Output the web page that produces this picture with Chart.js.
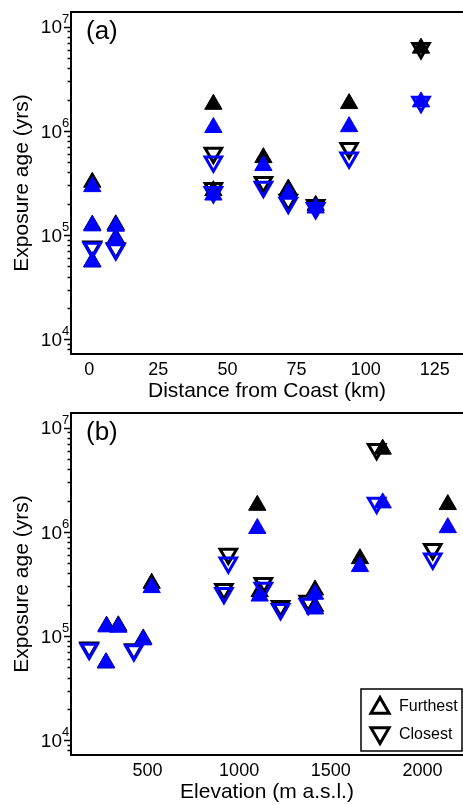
<!DOCTYPE html>
<html>
<head>
<meta charset="utf-8">
<script src="https://cdn.jsdelivr.net/npm/chart.js@4.4.1/dist/chart.umd.min.js"></script>
<style>
  html, body { margin: 0; padding: 0; background: #fff; overflow: hidden; }
  canvas { display: block; }
</style>
</head>
<body>
<canvas id="chart_a" width="463" height="404"></canvas>
<canvas id="chart_b" width="463" height="401"></canvas>
<script>
// "Furthest" samples (up triangles): position and exposure age for the two models
const furthestDist = [1.1, 1.1, 1.1, 9.6, 9.6, 44.9, 44.9, 63, 72, 81.9, 94, 120];
const furthestElev = [523, 277, 274, 341, 477, 1099, 1112, 1659, 1414, 1414, 2138, 1783];
const furthestBlack = [3.25e5, 1.26e5, 5.6e4, 1.27e5, 9.5e4, 1.82e6, 2.7e5, 5.6e5, 2.8e5, 1.95e5, 1.85e6, 6.3e6];
const furthestBlue = [2.95e5, 1.24e5, 5.6e4, 1.23e5, 9.3e4, 1.09e6, 2.45e5, 4.7e5, 2.55e5, 1.84e5, 1.11e6, 1.92e6];

// "Closest" samples (down triangles)
const closestDist = [1.1, 9.6, 44.9, 44.9, 63, 72, 81.9, 94, 120];
const closestElev = [182, 426, 941, 917, 1132, 1377, 1226, 2056, 1750];
const closestBlack = [7.8e4, 7.5e4, 6.2e5, 2.85e5, 3.25e5, 2.2e5, 1.95e5, 6.9e5, 6.3e6];
const closestBlue = [7.6e4, 7.35e4, 5.1e5, 2.6e5, 2.92e5, 2.05e5, 1.83e5, 5.6e5, 1.92e6];

// axis ticks
const yTicks = [1e4, 1e5, 1e6, 1e7];
const distTicks = [0, 25, 50, 75, 100, 125];
const elevTicks = [500, 1000, 1500, 2000];

const BLUE = "#0000ff";
const BLACK = "#000000";
const FONT = "'Liberation Sans', Arial, sans-serif";

Chart.defaults.font.family = FONT;
Chart.defaults.color = "#000";

function isDecade(v) {
    const e = Math.log10(v);
    return Math.abs(e - Math.round(e)) < 1e-9;
}

function allLogTicks(min, max) {
    const out = [];
    for (let e = 3; e <= 7; e++) {
        for (let k = 1; k <= 9; k++) {
            const v = k * Math.pow(10, e);
            if (v >= min && v <= max) out.push({value: v});
        }
    }
    return out;
}

function pts(xs, ys) {
    return xs.map((x, i) => ({x: x, y: ys[i]}));
}

// top frame line, panel letter and 10^n labels with a real superscript
const framePlugin = {
    id: "frame",
    afterDraw(chart, args, opts) {
        const {ctx, chartArea} = chart;
        const yScale = chart.scales.y;
        ctx.save();
        ctx.strokeStyle = "#000";
        ctx.lineWidth = 2;
        ctx.beginPath();
        ctx.moveTo(chartArea.left, chartArea.top);
        ctx.lineTo(chartArea.right, chartArea.top);
        ctx.stroke();
        ctx.fillStyle = "#000";
        ctx.font = "26px " + FONT;
        ctx.textBaseline = "middle";
        ctx.textAlign = "left";
        ctx.fillText(opts.letter, chartArea.left + 15, chartArea.top + 20);

        yTicks.forEach((v) => {
            const py = yScale.getPixelForValue(v);
            ctx.font = "19px " + FONT;
            ctx.textAlign = "right";
            ctx.textBaseline = "middle";
            ctx.fillText("10", chartArea.left - 9, py + 1);
            ctx.font = "13px " + FONT;
            ctx.textAlign = "left";
            ctx.fillText(String(Math.round(Math.log10(v))), chartArea.left - 9, py - 8);
        });
        ctx.restore();
    },
};

// boxed legend in the lower right corner of panel (b)
const boxLegend = {
    id: "boxLegend",
    afterDraw(chart, args, opts) {
        if (!opts.items) return;
        const {ctx, chartArea} = chart;
        const x0 = chartArea.right - 102, y0 = chartArea.bottom - 66;
        ctx.save();
        ctx.strokeStyle = "#000";
        ctx.lineWidth = 1.5;
        ctx.strokeRect(x0, y0, 101, 62);
        ctx.font = "16px " + FONT;
        ctx.textBaseline = "middle";
        opts.items.forEach((item, i) => {
            const cy = y0 + 18 + i * 28;
            ctx.lineWidth = 3;
            ctx.fillStyle = "rgba(0,0,0,0)";
            Chart.helpers.drawPoint(ctx, {pointStyle: "triangle", rotation: item.rotation, radius: 10.5, borderWidth: 3},
                x0 + 19, cy + (item.rotation ? -2 : 1));
            ctx.fillStyle = "#000";
            ctx.fillText(item.text, x0 + 38, cy);
        });
        ctx.restore();
    },
};

function makeDatasets(fx, cx) {
    return [
        {label: "Furthest blue", data: pts(fx, furthestBlue), order: 1, pointStyle: "triangle",
            pointRadius: 10, backgroundColor: BLUE, borderColor: BLUE, borderWidth: 1},
        {label: "Closest blue", data: pts(cx, closestBlue), order: 2, pointStyle: "triangle", rotation: 180,
            pointRadius: 9.5, backgroundColor: "rgba(0,0,0,0)", borderColor: BLUE, borderWidth: 3},
        {label: "Furthest black", data: pts(fx, furthestBlack), order: 3, pointStyle: "triangle",
            pointRadius: 10, backgroundColor: BLACK, borderColor: BLACK, borderWidth: 1},
        {label: "Closest black", data: pts(cx, closestBlack), order: 4, pointStyle: "triangle", rotation: 180,
            pointRadius: 9.5, backgroundColor: "rgba(0,0,0,0)", borderColor: BLACK, borderWidth: 3},
    ];
}

function makeOptions(cfg) {
    return {
        responsive: false,
        animation: false,
        layout: {autoPadding: false, padding: {top: cfg.padTop, right: 0, left: 0, bottom: 0}},
        plugins: {
            legend: {display: false},
            tooltip: {enabled: false},
            frame: {letter: cfg.letter},
            boxLegend: {items: cfg.legendItems},
        },
        scales: {
            x: {
                type: "linear",
                min: cfg.xMin,
                max: cfg.xMax,
                afterBuildTicks: (scale) => {
                    scale.ticks = cfg.xTicks.map((v) => ({value: v}));
                },
                afterFit: (scale) => {
                    scale.height = cfg.xHeight;
                    scale.paddingLeft = 0;
                    scale.paddingRight = 0;
                },
                ticks: {font: {size: 18}, padding: 5, autoSkip: false, maxRotation: 0,
                    callback: (v) => String(v)},
                grid: {display: true, drawOnChartArea: false, drawTicks: false},
                border: {display: true, color: "#000", width: 2},
                title: {display: true, text: cfg.xTitle, font: {size: 21}, padding: {top: 0, bottom: 0}},
            },
            y: {
                type: "logarithmic",
                min: 7300,
                max: 1.4e7,
                afterBuildTicks: (scale) => {
                    scale.ticks = allLogTicks(7300, 1.4e7);
                },
                afterFit: (scale) => {
                    scale.width = 71;
                    scale.paddingTop = 0;
                    scale.paddingBottom = 0;
                },
                ticks: {autoSkip: false, callback: () => ""},
                grid: {
                    display: true,
                    drawOnChartArea: false,
                    drawTicks: true,
                    tickLength: 7,
                    tickWidth: 1.5,
                    tickColor: "#000",
                    tickBorderDash: (ctx) => (ctx.tick && isDecade(ctx.tick.value) ? [] : [0, 3.5, 4, 100]),
                },
                border: {display: true, color: "#000", width: 2},
                title: {display: true, text: "Exposure age (yrs)", font: {size: 21}, padding: {top: 10, bottom: 0}},
            },
        },
    };
}

new Chart(document.getElementById("chart_a").getContext("2d"), {
    type: "scatter",
    data: {datasets: makeDatasets(furthestDist, closestDist)},
    options: makeOptions({
        padTop: 12, xHeight: 50, xMin: -6.6, xMax: 135.2, xTicks: distTicks,
        xTitle: "Distance from Coast (km)", letter: "(a)", legendItems: null,
    }),
    plugins: [framePlugin, boxLegend],
});

new Chart(document.getElementById("chart_b").getContext("2d"), {
    type: "scatter",
    data: {datasets: makeDatasets(furthestElev, closestElev)},
    options: makeOptions({
        padTop: 9, xHeight: 50, xMin: 83, xMax: 2221, xTicks: elevTicks,
        xTitle: "Elevation (m a.s.l.)", letter: "(b)",
        legendItems: [{text: "Furthest", rotation: 0}, {text: "Closest", rotation: 180}],
    }),
    plugins: [framePlugin, boxLegend],
});
</script>
</body>
</html>
